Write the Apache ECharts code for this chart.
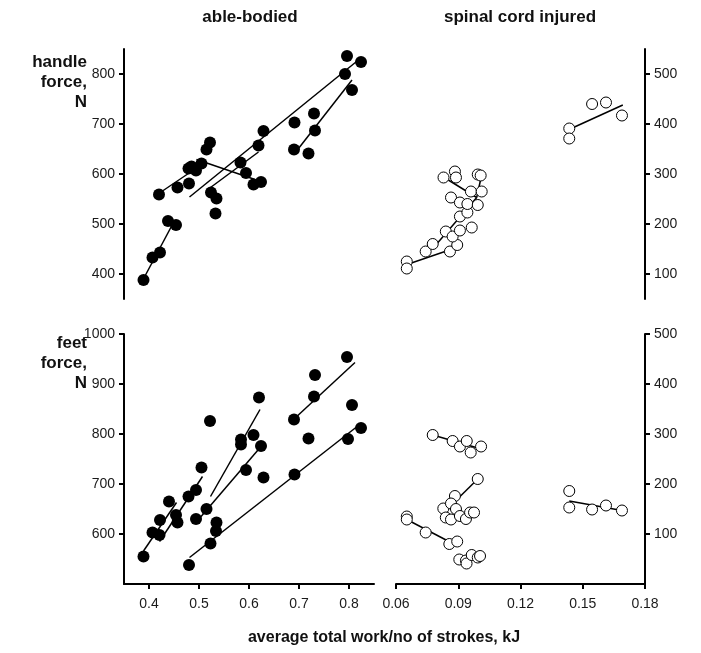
<!DOCTYPE html>
<html>
<head>
<meta charset="utf-8">
<script src="https://cdn.jsdelivr.net/npm/echarts@6/dist/echarts.min.js"></script>
<style>
  html, body { margin: 0; padding: 0; background: #fff; }
  #chart { width: 701px; height: 653px; }
</style>
</head>
<body>
<div id="chart"></div>
<script>
// tick labels
var abXTicks = [0.4, 0.5, 0.6, 0.7, 0.8]
var sciXTicks = [0.06, 0.09, 0.12, 0.15, 0.18]
var abHandleTicks = [400, 500, 600, 700, 800]
var sciHandleTicks = [100, 200, 300, 400, 500]
var abFeetTicks = [600, 700, 800, 900, 1000]
var sciFeetTicks = [100, 200, 300, 400, 500]

// able-bodied, handle force (work kJ, force N)
var abHandlePts = [
  [0.389, 388], [0.407, 433], [0.422, 443], [0.438, 506], [0.454, 498],
  [0.420, 559], [0.457, 573], [0.480, 581], [0.479, 611], [0.494, 607], [0.485, 615], [0.505, 621],
  [0.515, 649], [0.522, 663], [0.524, 563], [0.535, 551], [0.533, 521],
  [0.583, 623], [0.594, 602], [0.609, 579], [0.624, 584], [0.619, 657], [0.629, 686],
  [0.690, 649], [0.691, 703], [0.719, 641], [0.730, 721], [0.732, 687],
  [0.796, 836], [0.824, 824], [0.792, 800], [0.806, 768]
]
// regression segments: x1, y1, x2, y2
var abHandleFits = [
  [0.392, 396, 0.449, 503],
  [0.418, 560, 0.510, 622],
  [0.495, 629, 0.612, 589],
  [0.481, 554, 0.825, 833],
  [0.523, 573, 0.619, 644],
  [0.699, 651, 0.806, 788]
]

// spinal cord injured, handle force
var sciHandlePts = [
  [0.0652, 125], [0.0652, 111], [0.0743, 145], [0.0777, 160], [0.0860, 145], [0.0895, 158],
  [0.0840, 185], [0.0873, 175], [0.0908, 187], [0.0908, 215], [0.0944, 223], [0.0965, 193],
  [0.0865, 253], [0.0908, 243], [0.0944, 240], [0.0994, 238], [0.0961, 265], [0.1013, 265],
  [0.0829, 293], [0.0884, 305], [0.0889, 293], [0.0994, 299], [0.1008, 297],
  [0.1435, 391], [0.1435, 371], [0.1545, 440], [0.1612, 443], [0.1689, 417]
]
var sciHandleFits = [
  [0.0667, 121, 0.0836, 145],
  [0.0796, 160, 0.0989, 253],
  [0.0852, 288, 0.0989, 253],
  [0.0989, 253, 0.1010, 293],
  [0.1455, 393, 0.1693, 438]
]

// able-bodied, feet force
var abFeetPts = [
  [0.389, 555], [0.407, 603], [0.421, 598], [0.422, 628], [0.440, 665], [0.454, 638], [0.457, 623],
  [0.479, 675], [0.494, 688], [0.494, 630], [0.505, 733], [0.515, 650], [0.522, 826],
  [0.535, 623], [0.534, 606], [0.523, 581], [0.480, 538],
  [0.584, 789], [0.584, 779], [0.609, 798], [0.594, 728], [0.624, 776], [0.629, 713], [0.620, 873],
  [0.690, 829], [0.719, 791], [0.730, 875], [0.732, 918], [0.691, 719],
  [0.796, 954], [0.806, 858], [0.798, 790], [0.824, 812]
]
var abFeetFits = [
  [0.389, 566, 0.455, 663],
  [0.421, 585, 0.507, 715],
  [0.523, 675, 0.622, 849],
  [0.499, 629, 0.624, 775],
  [0.481, 553, 0.824, 821],
  [0.689, 829, 0.812, 943]
]

// spinal cord injured, feet force
var sciFeetPts = [
  [0.0777, 298], [0.0873, 286], [0.0908, 275], [0.0941, 286], [0.0960, 263], [0.1010, 275],
  [0.0994, 210], [0.0884, 176], [0.0828, 151], [0.0865, 161], [0.0889, 150], [0.0840, 133],
  [0.0865, 129], [0.0908, 136], [0.0937, 130], [0.0957, 143], [0.0976, 143],
  [0.0652, 135], [0.0652, 129], [0.0743, 103], [0.0857, 80], [0.0895, 85],
  [0.0905, 49], [0.0937, 47], [0.0940, 41], [0.0965, 58], [0.0994, 53], [0.1005, 56],
  [0.1435, 186], [0.1435, 153], [0.1545, 149], [0.1612, 157], [0.1689, 147]
]
var sciFeetFits = [
  [0.0777, 298, 0.1003, 271],
  [0.0884, 165, 0.0994, 210],
  [0.0652, 129, 0.0869, 82],
  [0.1435, 166, 0.1689, 147]
]

var FONT = 'Liberation Sans, Arial, sans-serif'

function axis(gridIndex, min, max, ticks, show, position) {
  var isX = position === 'bottom'
  return {
    type: 'value',
    gridIndex: gridIndex,
    min: min,
    max: max,
    show: show,
    position: position,
    splitLine: { show: false },
    axisLine: { show: true, onZero: false, lineStyle: { color: '#000', width: 2 } },
    axisTick: { show: true, customValues: ticks, length: 5, lineStyle: { color: '#000', width: 2 } },
    axisLabel: {
      show: true,
      customValues: ticks,
      color: '#1a1a1a',
      fontSize: 14,
      fontFamily: FONT,
      margin: isX ? 13 : 9,
      formatter: function (v) { return String(v) }
    }
  }
}

var series = []
function addPanel(idx, pts, fits, filled) {
  series.push({
    type: 'scatter',
    xAxisIndex: idx,
    yAxisIndex: idx,
    data: pts,
    symbol: 'circle',
    symbolSize: filled ? 12 : 11,
    itemStyle: filled
      ? { color: '#000', opacity: 1 }
      : { color: '#fff', borderColor: '#000', borderWidth: 1, opacity: 1 },
    z: 3
  })
  fits.forEach(function (f) {
    series.push({
      type: 'line',
      xAxisIndex: idx,
      yAxisIndex: idx,
      data: [[f[0], f[1]], [f[2], f[3]]],
      symbol: 'none',
      lineStyle: { color: '#000', width: 1.5 },
      z: 2
    })
  })
}
addPanel(0, abHandlePts, abHandleFits, true)
addPanel(1, sciHandlePts, sciHandleFits, false)
addPanel(2, abFeetPts, abFeetFits, true)
addPanel(3, sciFeetPts, sciFeetFits, false)

var chart = echarts.init(document.getElementById('chart'), null, { renderer: 'canvas' })
var titleFont = 'bold 17px ' + FONT
chart.setOption({
  animation: false,
  grid: [
    { left: 124, top: 49, width: 250, height: 250, outerBoundsMode: 'none' },
    { left: 396, top: 49, width: 249, height: 250, outerBoundsMode: 'none' },
    { left: 124, top: 334, width: 250, height: 250, outerBoundsMode: 'none' },
    { left: 396, top: 334, width: 249, height: 250, outerBoundsMode: 'none' }
  ],
  xAxis: [
    axis(0, 0.35, 0.85, abXTicks, false, 'bottom'),
    axis(1, 0.06, 0.18, sciXTicks, false, 'bottom'),
    axis(2, 0.35, 0.85, abXTicks, true, 'bottom'),
    axis(3, 0.06, 0.18, sciXTicks, true, 'bottom')
  ],
  yAxis: [
    axis(0, 350, 850, abHandleTicks, true, 'left'),
    axis(1, 50, 550, sciHandleTicks, true, 'right'),
    axis(2, 500, 1000, abFeetTicks, true, 'left'),
    axis(3, 0, 500, sciFeetTicks, true, 'right')
  ],
  graphic: [
    { type: 'text', style: { text: 'able-bodied', x: 250, y: 17, align: 'center', verticalAlign: 'middle', font: titleFont, fill: '#111' } },
    { type: 'text', style: { text: 'spinal cord injured', x: 520, y: 17, align: 'center', verticalAlign: 'middle', font: titleFont, fill: '#111' } },
    { type: 'text', style: { text: 'handle\nforce,\nN', x: 87, y: 52, align: 'right', verticalAlign: 'top', lineHeight: 20, font: titleFont, fill: '#111' } },
    { type: 'text', style: { text: 'feet\nforce,\nN', x: 87, y: 333, align: 'right', verticalAlign: 'top', lineHeight: 20, font: titleFont, fill: '#111' } },
    { type: 'text', style: { text: 'average total work/no of strokes, kJ', x: 384, y: 638, align: 'center', verticalAlign: 'middle', font: 'bold 16px ' + FONT, fill: '#111' } }
  ],
  series: series
})
</script>
</body>
</html>
